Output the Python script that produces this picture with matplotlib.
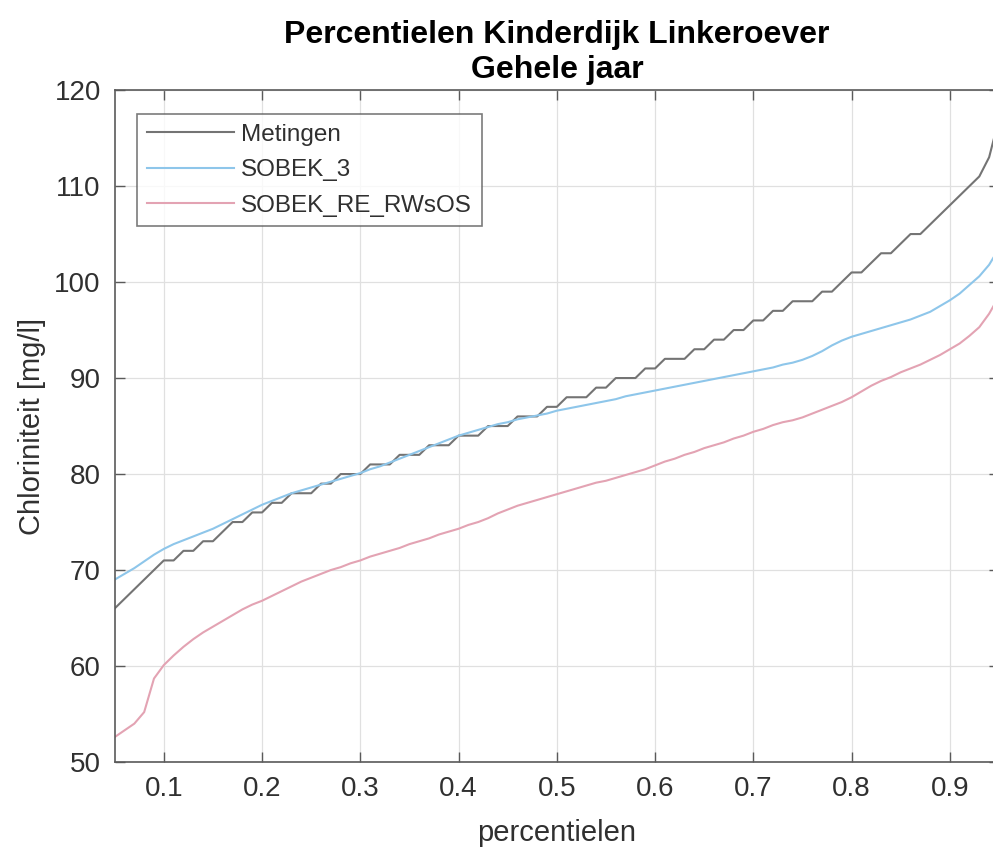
import numpy as np
import matplotlib
matplotlib.use("Agg")
import matplotlib.pyplot as plt

plt.rcParams['font.family'] = ['Liberation Sans', 'DejaVu Sans']

# percentielen 0.05 .. 0.95 (stap 0.01)
percentielen = np.round(np.arange(5, 96) / 100.0, 2)

metingen = [
    66, 67, 68, 69, 70, 71, 71, 72, 72, 73,
    73, 74, 75, 75, 76, 76, 77, 77, 78, 78,
    78, 79, 79, 80, 80, 80, 81, 81, 81, 82,
    82, 82, 83, 83, 83, 84, 84, 84, 85, 85,
    85, 86, 86, 86, 87, 87, 88, 88, 88, 89,
    89, 90, 90, 90, 91, 91, 92, 92, 92, 93,
    93, 94, 94, 95, 95, 96, 96, 97, 97, 98,
    98, 98, 99, 99, 100, 101, 101, 102, 103, 103,
    104, 105, 105, 106, 107, 108, 109, 110, 111, 113,
    117,
]

sobek_3 = [
    69.0, 69.6, 70.2, 70.9, 71.6, 72.2, 72.7, 73.1, 73.5, 73.9,
    74.3, 74.8, 75.3, 75.8, 76.3, 76.8, 77.2, 77.6, 78.0, 78.3,
    78.6, 78.9, 79.2, 79.5, 79.8, 80.1, 80.5, 80.8, 81.2, 81.6,
    82.0, 82.4, 82.8, 83.2, 83.6, 84.0, 84.3, 84.6, 84.9, 85.2,
    85.4, 85.7, 85.9, 86.1, 86.3, 86.6, 86.8, 87.0, 87.2, 87.4,
    87.6, 87.8, 88.1, 88.3, 88.5, 88.7, 88.9, 89.1, 89.3, 89.5,
    89.7, 89.9, 90.1, 90.3, 90.5, 90.7, 90.9, 91.1, 91.4, 91.6,
    91.9, 92.3, 92.8, 93.4, 93.9, 94.3, 94.6, 94.9, 95.2, 95.5,
    95.8, 96.1, 96.5, 96.9, 97.5, 98.1, 98.8, 99.7, 100.6, 101.8,
    103.5,
]

sobek_re_rwsos = [
    52.6, 53.3, 54.0, 55.2, 58.7, 60.1, 61.1, 62.0, 62.8, 63.5,
    64.1, 64.7, 65.3, 65.9, 66.4, 66.8, 67.3, 67.8, 68.3, 68.8,
    69.2, 69.6, 70.0, 70.3, 70.7, 71.0, 71.4, 71.7, 72.0, 72.3,
    72.7, 73.0, 73.3, 73.7, 74.0, 74.3, 74.7, 75.0, 75.4, 75.9,
    76.3, 76.7, 77.0, 77.3, 77.6, 77.9, 78.2, 78.5, 78.8, 79.1,
    79.3, 79.6, 79.9, 80.2, 80.5, 80.9, 81.3, 81.6, 82.0, 82.3,
    82.7, 83.0, 83.3, 83.7, 84.0, 84.4, 84.7, 85.1, 85.4, 85.6,
    85.9, 86.3, 86.7, 87.1, 87.5, 88.0, 88.6, 89.2, 89.7, 90.1,
    90.6, 91.0, 91.4, 91.9, 92.4, 93.0, 93.6, 94.4, 95.3, 96.7,
    98.5,
]

x_ticks = [0.1, 0.2, 0.3, 0.4, 0.5, 0.6, 0.7, 0.8, 0.9]
y_ticks = [50, 60, 70, 80, 90, 100, 110, 120]

fig = plt.figure(figsize=(9.93, 8.52), dpi=100)
# rechterrand valt net buiten het beeld, zoals in het origineel
ax = fig.add_axes([0.1155, 0.1056, 0.8905, 0.7887])

ax.plot(percentielen, metingen, color="#747474", lw=1.5, label="Metingen")
ax.plot(percentielen, sobek_3, color="#8ec6ea", lw=1.5, label="SOBEK_3")
ax.plot(percentielen, sobek_re_rwsos, color="#e3a3b3", lw=1.5, label="SOBEK_RE_RWsOS")

ax.set_xlim(0.05, 0.95)
ax.set_ylim(50, 120)
ax.set_xticks(x_ticks)
ax.set_yticks(y_ticks)
ax.set_xticklabels([f"{t:g}" for t in x_ticks])

ax.grid(True, color="#e0e0e0", lw=0.9)
ax.set_axisbelow(True)
for s in ax.spines.values():
    s.set_color("#5a5a5a")
    s.set_linewidth(1.2)
ax.tick_params(direction="in", length=7, width=1.0, color="#5a5a5a",
               labelsize=20, labelcolor="#303030", top=True, right=True, pad=10)

ax.set_xlabel("percentielen", fontsize=21, color="#303030", labelpad=12)
ax.set_ylabel("Chloriniteit [mg/l]", fontsize=21, color="#303030", labelpad=6)
ax.set_title("Percentielen Kinderdijk Linkeroever\nGehele jaar",
             fontsize=23, fontweight="bold", pad=9, linespacing=1.2)

leg = ax.legend(loc="upper left", bbox_to_anchor=(0.025, 0.964), fontsize=17.5,
                frameon=True, fancybox=False, handlelength=3.6,
                handletextpad=0.3, labelspacing=0.55, borderpad=0.4,
                borderaxespad=0)
leg.get_frame().set_edgecolor("#5a5a5a")
leg.get_frame().set_linewidth(1.2)
for t in leg.get_texts():
    t.set_color("#303030")

fig.savefig("out.png", dpi=100)
